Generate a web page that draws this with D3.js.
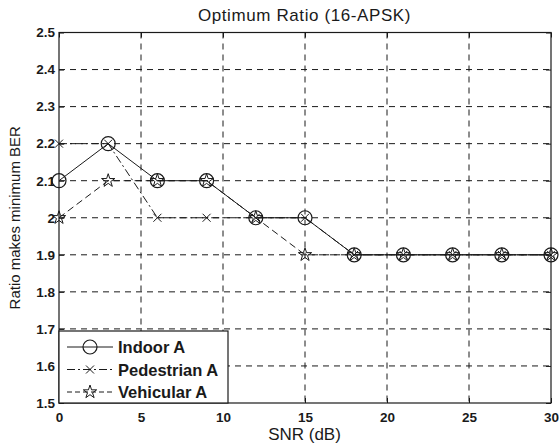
<!DOCTYPE html>
<html>
<head>
<meta charset="utf-8">
<script src="https://cdn.jsdelivr.net/npm/d3@7"></script>
<style>
  body { margin: 0; background: #fff; }
  svg { display: block; font-family: "Liberation Sans", Arial, sans-serif; }
</style>
</head>
<body>
<svg id="chart" width="559" height="447"></svg>
<script>
const snr = [0, 3, 6, 9, 12, 15, 18, 21, 24, 27, 30];
const indoorA = [2.1, 2.2, 2.1, 2.1, 2.0, 2.0, 1.9, 1.9, 1.9, 1.9, 1.9];
const pedestrianA = [2.2, 2.2, 2.0, 2.0, 2.0, 2.0, 1.9, 1.9, 1.9, 1.9, 1.9];
const vehicularA = [2.0, 2.1, 2.1, 2.1, 2.0, 1.9, 1.9, 1.9, 1.9, 1.9, 1.9];
const xTicks = [0, 5, 10, 15, 20, 25, 30];
const yTicks = [1.5, 1.6, 1.7, 1.8, 1.9, 2.0, 2.1, 2.2, 2.3, 2.4, 2.5];

const svg = d3.select("#chart");
const m = { left: 59, right: 551, top: 32.5, bottom: 403 };

const x = d3.scaleLinear().domain([0, 30]).range([m.left, m.right]);
const y = d3.scaleLinear().domain([1.5, 2.5]).range([m.bottom, m.top]);

const ink = "#1a1a1a";

// grid
const grid = svg.append("g").attr("stroke", ink).attr("stroke-width", 1)
  .attr("stroke-dasharray", "6,5");
grid.selectAll(".vx").data(xTicks.slice(1, -1)).join("line")
  .attr("x1", d => x(d)).attr("x2", d => x(d))
  .attr("y1", m.top).attr("y2", m.bottom);
grid.selectAll(".hy").data(yTicks.slice(1, -1)).join("line")
  .attr("y1", d => y(d)).attr("y2", d => y(d))
  .attr("x1", m.left).attr("x2", m.right);

// axes
const xAxis = d3.axisBottom(x).tickValues(xTicks).tickSize(-5).tickPadding(9)
  .tickFormat(d3.format("d"));
const yAxis = d3.axisLeft(y).tickValues(yTicks).tickSize(-5).tickPadding(4)
  .tickFormat(d => d === 2 ? "2" : d3.format(".1f")(d));
const xTop = d3.axisTop(x).tickValues(xTicks).tickSize(-5).tickFormat("");
const yRight = d3.axisRight(y).tickValues(yTicks).tickSize(-5).tickFormat("");

const gx = svg.append("g").attr("transform", `translate(0,${m.bottom})`).call(xAxis);
const gy = svg.append("g").attr("transform", `translate(${m.left},0)`).call(yAxis);
const gt = svg.append("g").attr("transform", `translate(0,${m.top})`).call(xTop);
const gr = svg.append("g").attr("transform", `translate(${m.right},0)`).call(yRight);
[gx, gy, gt, gr].forEach(g => {
  g.select(".domain").remove();
  g.selectAll("line").attr("stroke", ink);
  g.selectAll("text").attr("fill", ink).style("font-size", "13.5px").style("font-weight", "bold");
});

// box
svg.append("rect")
  .attr("x", m.left).attr("y", m.top)
  .attr("width", m.right - m.left).attr("height", m.bottom - m.top)
  .attr("fill", "none").attr("stroke", ink).attr("stroke-width", 1.2);

// series
const line = d3.line().x(d => x(d[0])).y(d => y(d[1]));
const pts = vals => snr.map((s, i) => [s, vals[i]]);

svg.append("path").datum(pts(pedestrianA)).attr("d", line)
  .attr("fill", "none").attr("stroke", ink).attr("stroke-width", 1)
  .attr("stroke-dasharray", "8,3,2,3");
svg.append("path").datum(pts(vehicularA)).attr("d", line)
  .attr("fill", "none").attr("stroke", ink).attr("stroke-width", 1)
  .attr("stroke-dasharray", "7,4");
svg.append("path").datum(pts(indoorA)).attr("d", line)
  .attr("fill", "none").attr("stroke", ink).attr("stroke-width", 1);

const star = d3.symbol().type(d3.symbolStar).size(55);
function drawCircle(g, cx, cy) {
  g.append("circle").attr("cx", cx).attr("cy", cy).attr("r", 7)
    .attr("fill", "none").attr("stroke", ink).attr("stroke-width", 1.2);
}
function drawStar(g, cx, cy) {
  g.append("path").attr("d", star()).attr("transform", `translate(${cx},${cy})`)
    .attr("fill", "none").attr("stroke", ink).attr("stroke-width", 1);
}
function drawX(g, cx, cy) {
  const s = 4;
  g.append("path")
    .attr("d", `M${cx - s},${cy - s}L${cx + s},${cy + s}M${cx - s},${cy + s}L${cx + s},${cy - s}`)
    .attr("stroke", ink).attr("stroke-width", 1);
}

const marks = svg.append("g");
pts(pedestrianA).forEach(d => drawX(marks, x(d[0]), y(d[1])));
pts(vehicularA).forEach(d => drawStar(marks, x(d[0]), y(d[1])));
pts(indoorA).forEach(d => drawCircle(marks, x(d[0]), y(d[1])));

// title and labels
svg.append("text").attr("x", 304.5).attr("y", 21)
  .attr("text-anchor", "middle").attr("fill", ink).style("font-size", "17px")
  .style("letter-spacing", "0.6px")
  .text("Optimum Ratio (16-APSK)");
svg.append("text").attr("x", 304.5).attr("y", 440)
  .attr("text-anchor", "middle").attr("fill", ink).style("font-size", "17px")
  .text("SNR (dB)");
svg.append("text")
  .attr("transform", `translate(20,${(m.top + m.bottom) / 2}) rotate(-90)`)
  .attr("text-anchor", "middle").attr("fill", ink).style("font-size", "15px")
  .text("Ratio makes minimum BER");

// legend
const legendItems = [
  { name: "Indoor A", dash: null, mark: drawCircle },
  { name: "Pedestrian A", dash: "8,3,2,3", mark: drawX },
  { name: "Vehicular A", dash: "5,3", mark: drawStar }
];
const lg = svg.append("g");
lg.append("rect").attr("x", m.left).attr("y", 331)
  .attr("width", 169).attr("height", m.bottom - 331)
  .attr("fill", "#fff").attr("stroke", ink).attr("stroke-width", 1.2);
legendItems.forEach((it, i) => {
  const ly = 347 + i * 22.5;
  lg.append("line").attr("x1", 67).attr("x2", 113).attr("y1", ly).attr("y2", ly)
    .attr("stroke", ink).attr("stroke-width", 1)
    .attr("stroke-dasharray", it.dash);
  it.mark(lg, 90, ly);
  lg.append("text").attr("x", 118).attr("y", ly + 6).attr("fill", ink)
    .style("font-size", "16.5px").style("font-weight", "bold").text(it.name);
});
</script>
</body>
</html>
